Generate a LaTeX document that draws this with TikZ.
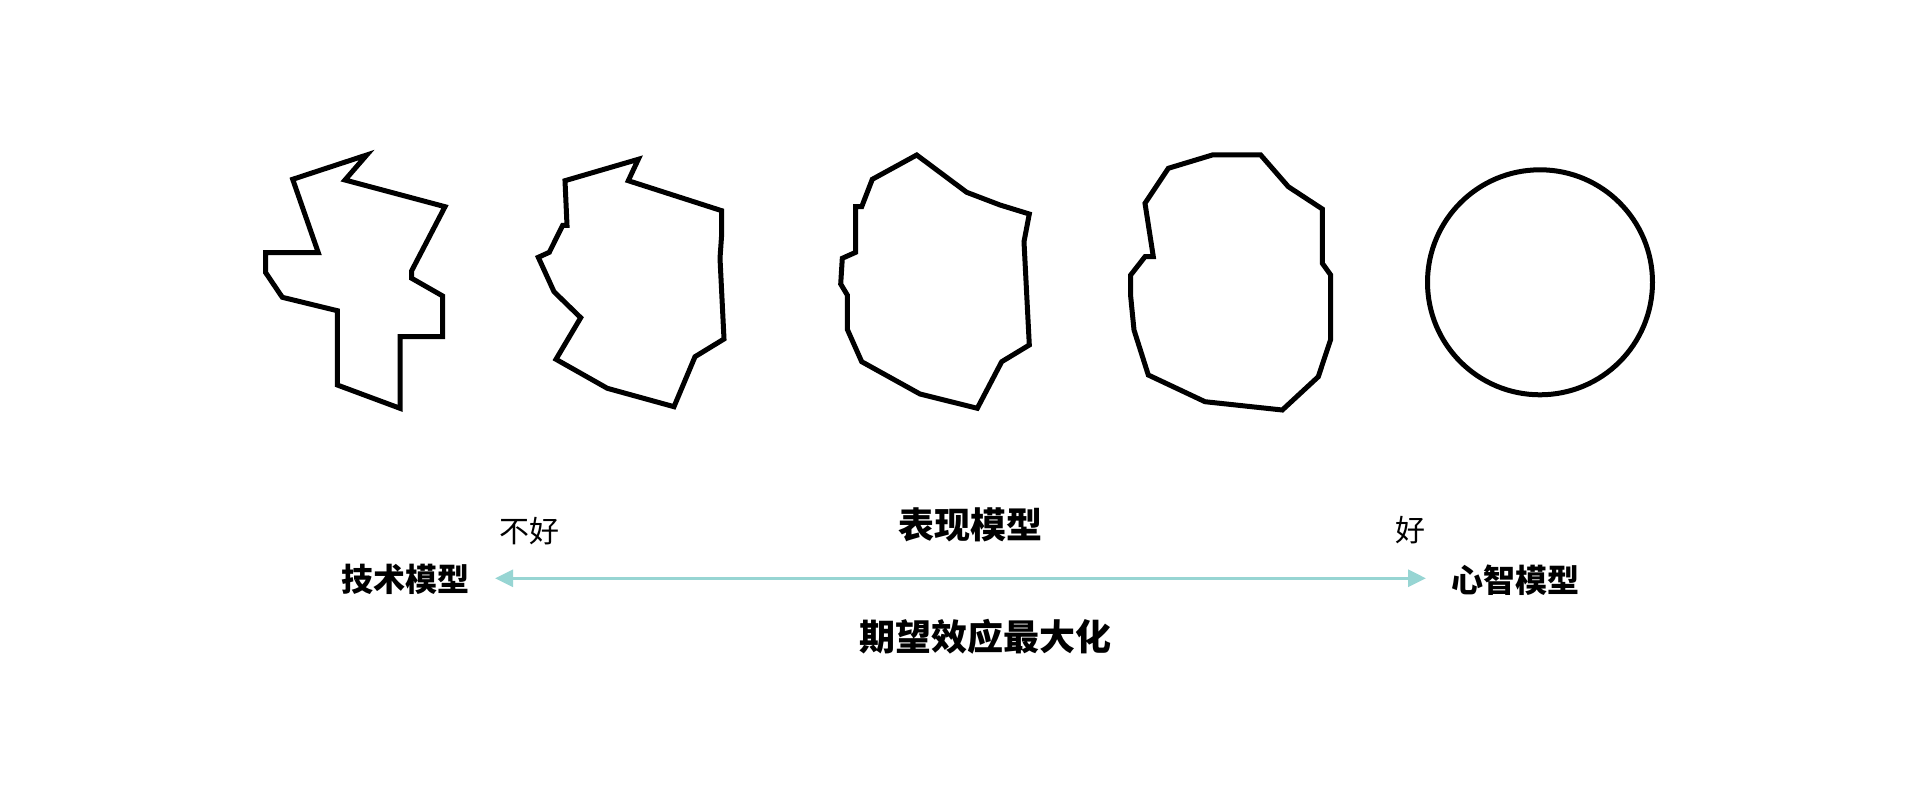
\documentclass[tikz,border=0pt]{standalone}
\usepackage{fontspec}
\newfontfamily\cjk{Noto Sans CJK SC}
\usetikzlibrary{arrows.meta}
\definecolor{teal}{HTML}{97D5D3}
\tikzset{
  blob/.style={draw=black,line width=5pt,line join=miter},
  lbl/.style={inner sep=0pt,font=\cjk\fontsize{30}{30}\selectfont},
  side/.style={inner sep=0pt,font=\cjk\bfseries\fontsize{32}{32}\selectfont},
  big/.style={inner sep=0pt,font=\cjk\bfseries\fontsize{36}{36}\selectfont},
  axis/.style={draw=teal,line width=3pt,{Triangle[length=18pt,width=17pt]}-{Triangle[length=18pt,width=17pt]}}
}
\begin{document}
\begin{tikzpicture}[x=1pt,y=-1pt]
\useasboundingbox[fill=white] (0,0) rectangle (1920,797);
% shape 1
\draw[blob] (292.7,179.3) -- (366.7,155) -- (345,180) -- (445,206.7) -- (411.7,270.7) -- (411.7,278.3) -- (442.7,296) -- (442.7,336.7) -- (400,336.7) -- (400,408.3) -- (337.3,385) -- (337.3,310.7) -- (282.3,297.3) -- (265.7,272.7) -- (265.7,252.7) -- (318.3,252.7) -- cycle;
% shape 2
\draw[blob] (565,180.7) -- (638.3,159.3) -- (628.3,180.7) -- (721.7,210.7) -- (721.7,234) -- (720,258.3) -- (724,339) -- (695,356.7) -- (674,406.7) -- (607.3,388.3) -- (556,359.3) -- (580.7,317.7) -- (554,291.7) -- (538.3,257.3) -- (549.3,252.3) -- (562.7,225.3) -- (567,225.3) -- cycle;
% shape 3
\draw[blob] (916.7,155) -- (966.7,192.3) -- (1000,205) -- (1029.3,214) -- (1024,241.7) -- (1029.3,345) -- (1001.7,361.7) -- (977.3,408.3) -- (920,394) -- (861.7,361.7) -- (847.3,329.3) -- (847.3,295) -- (840.7,284) -- (842.3,258.3) -- (855.7,252.3) -- (855.7,206.7) -- (861.7,206.7) -- (872.3,179.3) -- cycle;
% shape 4
\draw[blob] (1212.3,155) -- (1260.7,155) -- (1288.3,186.7) -- (1322.3,209) -- (1322.3,263.3) -- (1330.7,275) -- (1330.7,339.3) -- (1318.3,376.7) -- (1282.3,410) -- (1205,401.7) -- (1148.3,375) -- (1134,330) -- (1130.7,296.7) -- (1130.7,275) -- (1145,256.7) -- (1153.3,256.7) -- (1145,203.3) -- (1168.3,168.3) -- cycle;
% circle
\draw[blob] (1540,282.3) circle[radius=112.5];
% labels
\node[lbl] (bad) at (529.7,531.5) {不好};
\node[lbl] (good) at (1410,530.5) {好};
\node[big] (pm) at (970.8,525) {表现模型};
\node[side] (tm) at (405.5,579.2) {技术模型};
\node[side] (mm) at (1515,580) {心智模型};
\node[big] (exp) at (985,636.7) {期望效应最大化};
% axis
\coordinate (aL) at (495,578.3);
\coordinate (aR) at (1426,578.3);
\draw[axis] (aL) -- (aR);
\end{tikzpicture}
\end{document}
